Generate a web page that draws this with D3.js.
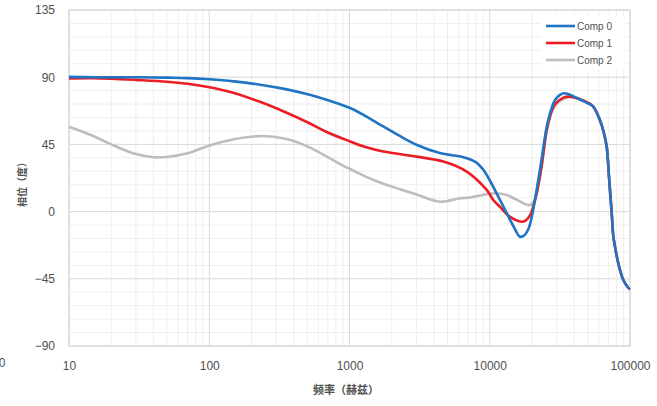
<!DOCTYPE html>
<html>
<head>
<meta charset="utf-8">
<script src="https://cdn.jsdelivr.net/npm/d3@7/dist/d3.min.js"></script>
<style>
  html, body { margin: 0; padding: 0; background: #fff; }
  svg { display: block; }
  .tick text { font-family: "Liberation Sans", Arial, sans-serif; font-size: 12px; fill: #505050; }
</style>
</head>
<body>
<svg id="chart" width="657" height="406"></svg>
<script>
// Phase response of three components, frequency in Hz, phase in degrees
const seriesNames = ["Comp 0", "Comp 1", "Comp 2"];
const seriesColors = ["#1f74c4", "#ec1c24", "#bdbdbd"];

const comp0Freq = [10, 15, 20, 30, 50, 70, 100, 150, 230, 350, 520, 650, 1000, 1300, 1740, 2300, 3000, 4400, 6500, 8000, 9000, 10000, 11500, 13600, 15000, 16400, 17600, 18800, 20000, 21000, 22800, 25500, 26900, 29200, 31500, 33800, 36000, 38400, 44000, 50000, 54700, 61000, 65000, 68200, 71100, 74100, 76100, 78200, 82500, 89600, 97200, 100000];
const comp0Phase = [90.2, 90, 89.9, 90, 89.7, 89.4, 88.6, 87.2, 85, 82, 78.2, 75.6, 69.5, 64, 57, 50.5, 44.8, 39.2, 36.4, 33, 28, 21, 10, -3.4, -11, -16.8, -16, -12, -3, 7.8, 27.9, 57, 65.8, 74.7, 78, 79.2, 78.8, 77.8, 75, 72.5, 70.3, 61.3, 53, 43.5, 21.2, -1.3, -16.8, -23.5, -34.6, -45.8, -51, -52];

const comp1Freq = [10, 15, 20, 30, 50, 70, 96, 150, 230, 350, 523, 700, 1009, 1300, 1741, 3010, 4670, 6850, 9510, 10600, 11800, 13900, 16900, 18000, 19400, 20500, 21600, 23200, 25500, 26900, 29200, 33800, 36300, 40000, 44000, 50000, 54700, 61000, 65000, 68200, 71100, 74100, 76100, 78200, 82500, 89600, 97200, 100000];
const comp1Phase = [89.2, 89.3, 89, 88.2, 87, 85.6, 83.6, 79.5, 73.5, 66.5, 59, 53, 47, 43.2, 40.2, 36.8, 33.5, 26.8, 14.5, 7.8, 3.3, -3.4, -6.8, -6, -2.3, 4, 12.3, 27.9, 55, 64, 72, 76.5, 77, 76.5, 75.2, 73, 70.3, 61.3, 53, 43.5, 21.2, -1.3, -16.8, -23.5, -34.6, -45.8, -51, -52];

const comp2Freq = [10, 15, 20, 30, 40, 50, 70, 98, 150, 241, 350, 443, 523, 700, 850, 1009, 1500, 2290, 3000, 4415, 6140, 7230, 9510, 10900, 13200, 15500, 17800, 19400, 21000, 22500, 23500, 25500, 26900, 29200, 33800, 38400, 44000, 50000, 54700, 61000, 65000, 68200, 71100, 74100, 76100, 78200, 82500, 89600, 97200, 100000];
const comp2Phase = [56.8, 50.5, 45, 38.5, 36.4, 36.6, 39, 44, 48.5, 50.6, 48.8, 45.8, 42.8, 36.5, 32, 28.5, 21, 15, 11.5, 6.6, 8.9, 9.5, 11.6, 12.3, 11.1, 8, 5.1, 4.4, 8, 21, 31, 54, 63, 71, 75.5, 77, 75.5, 73, 70.3, 61.3, 53, 43.5, 21.2, -1.3, -16.8, -23.5, -34.6, -45.8, -51, -52];

const xTicks = [10, 100, 1000, 10000, 100000];
const yTicks = [-90, -45, 0, 45, 90, 135];
const xTitle = "频率（赫兹）";
const yTitle = "相位（度）";

const series = [
  { name: seriesNames[0], color: seriesColors[0], freq: comp0Freq, phase: comp0Phase },
  { name: seriesNames[1], color: seriesColors[1], freq: comp1Freq, phase: comp1Phase },
  { name: seriesNames[2], color: seriesColors[2], freq: comp2Freq, phase: comp2Phase }
];

const svg = d3.select("#chart");
const plot = { left: 69, right: 630, top: 10, bottom: 346 };

const x = d3.scaleLog().domain([10, 100000]).range([plot.left, plot.right]);
const y = d3.scaleLinear().domain([-90, 135]).range([plot.bottom, plot.top]);

// minor grid: every 9 degrees, and 2..9 within each decade
const minorY = d3.range(-90, 136, 9).filter(v => v % 45 !== 0);
const minorX = [];
for (let d = 10; d < 100000; d *= 10) for (let k = 2; k <= 9; k++) minorX.push(d * k);

const grid = svg.append("g");
grid.selectAll(".my").data(minorY).join("line")
  .attr("x1", plot.left).attr("x2", plot.right)
  .attr("y1", d => y(d)).attr("y2", d => y(d))
  .attr("stroke", "#efefef").attr("stroke-width", 1);
grid.selectAll(".mx").data(minorX).join("line")
  .attr("x1", d => x(d)).attr("x2", d => x(d))
  .attr("y1", plot.top).attr("y2", plot.bottom)
  .attr("stroke", "#efefef").attr("stroke-width", 1);
grid.selectAll(".My").data(yTicks).join("line")
  .attr("x1", plot.left).attr("x2", plot.right)
  .attr("y1", d => y(d)).attr("y2", d => y(d))
  .attr("stroke", "#d9d9d9").attr("stroke-width", 1);
grid.selectAll(".Mx").data(xTicks).join("line")
  .attr("x1", d => x(d)).attr("x2", d => x(d))
  .attr("y1", plot.top).attr("y2", plot.bottom)
  .attr("stroke", "#d9d9d9").attr("stroke-width", 1);
grid.append("rect")
  .attr("x", plot.left).attr("y", plot.top)
  .attr("width", plot.right - plot.left).attr("height", plot.bottom - plot.top)
  .attr("fill", "none").attr("stroke", "#d4d4d4").attr("stroke-width", 1);

// axes
const xAxis = svg.append("g")
  .attr("transform", `translate(0,${plot.bottom})`)
  .call(d3.axisBottom(x).tickValues(xTicks).tickFormat(d3.format("d")).tickSize(0).tickPadding(15));
xAxis.select(".domain").remove();

const yAxis = svg.append("g")
  .attr("transform", `translate(${plot.left},0)`)
  .call(d3.axisLeft(y).tickValues(yTicks).tickSize(0).tickPadding(14));
yAxis.select(".domain").remove();

// curves
const line = d3.line().x(d => x(d[0])).y(d => y(d[1])).curve(d3.curveCatmullRom.alpha(0.5));
const drawOrder = [2, 1, 0];
drawOrder.forEach(i => {
  const s = series[i];
  svg.append("path")
    .datum(d3.zip(s.freq, s.phase))
    .attr("fill", "none")
    .attr("stroke", s.color)
    .attr("stroke-width", 2.6)
    .attr("stroke-linejoin", "round")
    .attr("d", line);
});

// legend
const legend = svg.append("g");
legend.append("rect").attr("x", 541).attr("y", 16).attr("width", 84).attr("height", 54).attr("fill", "#fff");
series.forEach((s, i) => {
  const yy = 26 + i * 17;
  legend.append("line").attr("x1", 546).attr("x2", 575).attr("y1", yy).attr("y2", yy)
    .attr("stroke", s.color).attr("stroke-width", 2.6);
  legend.append("text").attr("x", 577).attr("y", yy + 3.5).text(s.name)
    .attr("font-family", "Liberation Sans, Arial, sans-serif").attr("font-size", 10).attr("fill", "#505050");
});

// axis titles
svg.append("text").attr("x", 346).attr("y", 394).attr("text-anchor", "middle")
  .attr("font-family", "Noto Sans CJK SC, sans-serif").attr("font-size", 11).attr("font-weight", "bold")
  .attr("fill", "#505050").text(xTitle);
svg.append("text").attr("transform", "translate(26,182) rotate(-90)").attr("text-anchor", "middle")
  .attr("font-family", "Noto Sans CJK SC, sans-serif").attr("font-size", 10).attr("font-weight", "bold")
  .attr("fill", "#505050").text(yTitle);

// clipped label fragment at the left edge
svg.append("text").attr("x", 5.5).attr("y", 367).attr("text-anchor", "end")
  .attr("font-family", "Liberation Sans, Arial, sans-serif").attr("font-size", 12).attr("fill", "#505050").text("0");
</script>
</body>
</html>
